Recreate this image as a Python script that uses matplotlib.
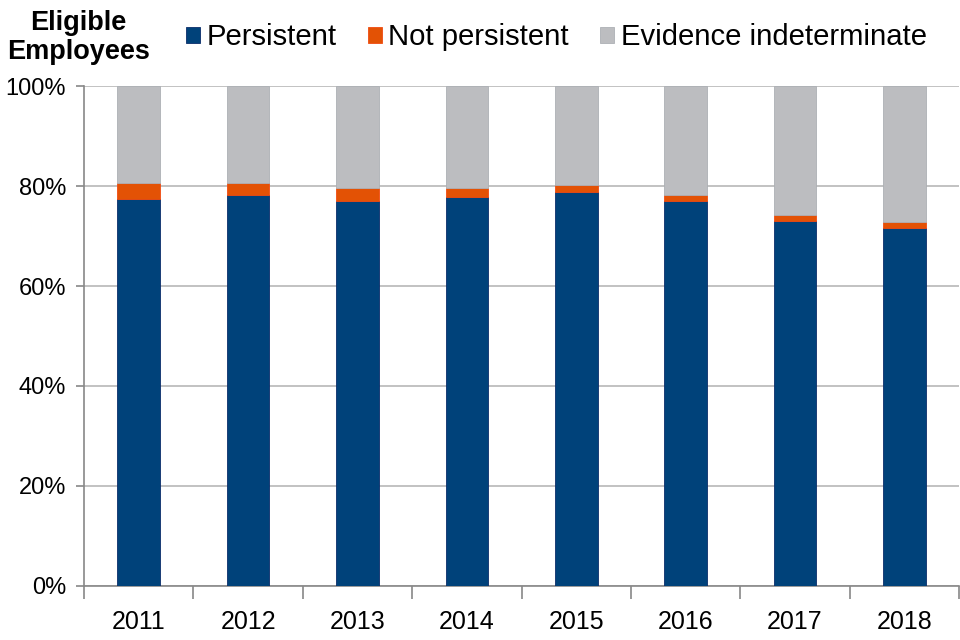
import matplotlib.pyplot as plt
import numpy as np

plt.rcParams['font.family'] = ['Liberation Sans', 'DejaVu Sans']

years = ['2011', '2012', '2013', '2014', '2015', '2016', '2017', '2018']
persistent = [77.4, 78.3, 77.1, 77.9, 78.9, 77.1, 73.1, 71.7]
persist_plus_not = [80.7, 80.7, 79.7, 79.7, 80.3, 78.3, 74.3, 72.9]

persistent = np.array(persistent)
not_persistent = np.array(persist_plus_not) - persistent
indeterminate = 100.0 - persistent - not_persistent

c_blue = '#00427a'
c_orange = '#e35205'
c_gray = '#bcbdc0'

fig = plt.figure(figsize=(9.6, 6.4), dpi=100)
ax = fig.add_axes([0.0875, 0.0844, 0.9115, 0.7812])

x = np.arange(len(years))
w = 0.39
ax.bar(x, persistent, w, color=c_blue, edgecolor='#0a2d6a', linewidth=0.6,
       label='Persistent', zorder=3)
ax.bar(x, not_persistent, w, bottom=persistent, color=c_orange,
       edgecolor='#f04a10', linewidth=0.6, label='Not persistent', zorder=3)
ax.bar(x, indeterminate, w, bottom=persistent + not_persistent, color=c_gray,
       edgecolor='#adb0b5', linewidth=0.6, label='Evidence indeterminate', zorder=3)

ax.set_xlim(-0.5, len(years) - 0.5)
ax.set_ylim(0, 100)
ax.set_yticks(np.arange(0, 101, 20))
ax.set_yticklabels(['{0:d}%'.format(v) for v in range(0, 101, 20)], fontsize=17)
ax.yaxis.grid(True, color='#b8b8b8', linewidth=1.2, zorder=0)

ax.set_xticks(x)
ax.set_xticklabels(years, fontsize=18)
ax.set_xticks(np.arange(-0.5, len(years)), minor=True)
ax.tick_params(axis='x', which='major', length=0, pad=17)
ax.tick_params(axis='x', which='minor', length=9, color='#888888', width=1.2)
ax.tick_params(axis='y', length=6, color='#888888', width=1.2, pad=7)

for s in ['top', 'right']:
    ax.spines[s].set_visible(False)
ax.spines['left'].set_color('#888888')
ax.spines['bottom'].set_color('#888888')
ax.spines['left'].set_linewidth(1.2)
ax.spines['bottom'].set_linewidth(1.2)

fig.text(0.082, 0.941, 'Eligible\nEmployees', ha='center', va='center',
         fontsize=19.5, fontweight='bold', linespacing=1.15)
fig.legend(loc='center left', bbox_to_anchor=(0.194, 0.942), ncol=3,
           frameon=False, fontsize=21.1, handlelength=0.48, handleheight=0.48,
           handletextpad=0.22, columnspacing=1.06, borderpad=0, borderaxespad=0)

fig.savefig('out.png', dpi=100)
